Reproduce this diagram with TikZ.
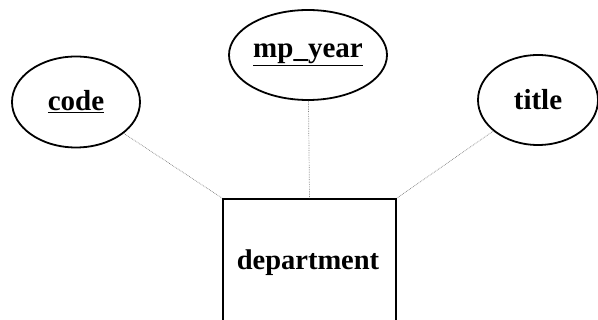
\documentclass[tikz,border=0pt]{standalone}
\usepackage{fontspec}
\setmainfont{Liberation Serif}
\usetikzlibrary{shapes.geometric}
\begin{document}
\begin{tikzpicture}[x=1pt,y=-1pt,
  attr/.style={draw=black,line width=1.8pt,ellipse,inner sep=0pt,font=\fontsize{29}{32}\selectfont\bfseries},
  ent/.style={draw=black,line width=1.8pt,rectangle,inner sep=0pt},
  link/.style={draw=gray,line width=0.7pt,densely dotted}]
\useasboundingbox (0,0) rectangle (598,320);
\begin{scope}
\clip (0,0) rectangle (598,320);
\node[attr,minimum width=128pt,minimum height=91pt] (code) at (76,102) {\underline{code}};
\node[attr,minimum width=158pt,minimum height=90pt] (mp) at (308,55) {\underline{mp\_year}};
\node[attr,minimum width=120pt,minimum height=90pt] (title) at (538,100) {title};
\node[ent,minimum width=173pt,minimum height=150pt] (dep) at (309.5,274) {};
\node[font=\fontsize{28.5}{32}\selectfont\bfseries] (deplabel) at (308,263) {department};
\draw[link] (code) -- (dep.north west);
\draw[link] (mp) -- (dep.north);
\draw[link] (title) -- (dep.north east);
\end{scope}
\end{tikzpicture}
\end{document}
